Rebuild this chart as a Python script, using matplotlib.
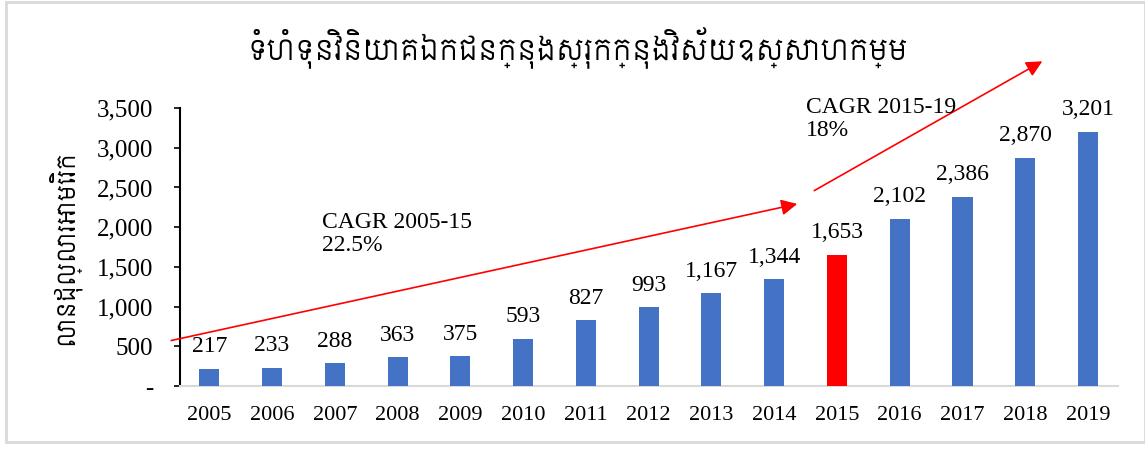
import os
import matplotlib
matplotlib.use("Agg")
import matplotlib.pyplot as plt
from matplotlib import font_manager as fm
from matplotlib.patches import Rectangle
import matplotlib.ticker as mticker
import numpy as np

# ── 数据 ────────────────────────────────────────────
years = ["2005", "2006", "2007", "2008", "2009", "2010", "2011", "2012",
         "2013", "2014", "2015", "2016", "2017", "2018", "2019"]
values = [217, 233, 288, 363, 375, 593, 827, 993, 1167, 1344, 1653, 2102, 2386, 2870, 3201]
highlight_year = "2015"

title_text = "ទំហំទុនវិនិយោគឯកជនក្នុងស្រុកក្នុងវិស័យឧស្សាហកម្ម"
ylabel_text = "លានដុល្លារអាមេរិក"
cagr1_text = "CAGR 2005-15\n22.5%"
cagr2_text = "CAGR 2015-19\n18%"

# ── 样式 ────────────────────────────────────────────
BLUE = "#4472C4"
RED = "#FF0000"
GRAY = "#D9D9D9"

plt.rcParams["font.family"] = ["Liberation Serif", "DejaVu Serif"]

khmer_path = "/usr/share/fonts/truetype/google-fonts/Siemreap.ttf"
if os.path.exists(khmer_path):
    fm.fontManager.addfont(khmer_path)
    khmer = fm.FontProperties(fname=khmer_path)
else:
    khmer = fm.FontProperties(family="DejaVu Sans")

fig = plt.figure(figsize=(11.45, 4.5), dpi=100)
ax = fig.add_axes([0.157, 0.142, 0.819, 0.618])

x = np.arange(len(years))
colors = [RED if y == highlight_year else BLUE for y in years]
ax.bar(x, values, width=0.32, color=colors, zorder=3)

for xi, v in zip(x, values):
    ax.annotate(f"{v:,}", (xi, v), xytext=(0, 12), textcoords="offset points",
                ha="center", va="baseline", fontsize=17, color="black")

ax.set_xlim(-0.47, len(years) - 0.53)
ax.set_ylim(0, 3500)
ax.set_yticks(np.arange(0, 3501, 500))
ax.yaxis.set_major_formatter(mticker.FuncFormatter(
    lambda v, p: "-" if v == 0 else f"{int(v):,}"))
ax.set_xticks(x)
ax.set_xticklabels(years)
ax.tick_params(axis="x", length=0, pad=14, labelsize=16)
ax.tick_params(axis="y", length=4, width=1.2, pad=15, labelsize=18, direction="out")

for s in ["top", "right"]:
    ax.spines[s].set_visible(False)
ax.spines["left"].set_color("black")
ax.spines["left"].set_linewidth(1.5)
ax.spines["bottom"].set_color(GRAY)
ax.spines["bottom"].set_linewidth(1.5)

ax.set_ylabel(ylabel_text, fontproperties=khmer, fontsize=17, labelpad=12)

# CAGR 箭头
arrow_kw = dict(arrowstyle="-|>", color=RED, lw=1.2, mutation_scale=24)
ax.annotate("", xy=(9.41, 2300), xytext=(-0.65, 566), xycoords="data",
            arrowprops=arrow_kw, annotation_clip=False)
ax.annotate("", xy=(13.31, 4105), xytext=(9.60, 2443), xycoords="data",
            arrowprops=arrow_kw, annotation_clip=False)

ax.text(1.80, 2190, cagr1_text, fontsize=17, va="top", ha="left", linespacing=1.15)
ax.text(9.5, 3640, cagr2_text, fontsize=17, va="top", ha="left", linespacing=1.15)

fig.text(0.505, 0.893, title_text, fontproperties=khmer, fontsize=20.5,
         ha="center", va="center")

# 外框
fig.patches.append(Rectangle((6 / 1145, 1 - 442 / 450), 1 - 6 / 1145, (442 - 2) / 450,
                             transform=fig.transFigure, fill=False,
                             edgecolor=GRAY, linewidth=2))

fig.savefig("out.png", dpi=100, facecolor="white")
